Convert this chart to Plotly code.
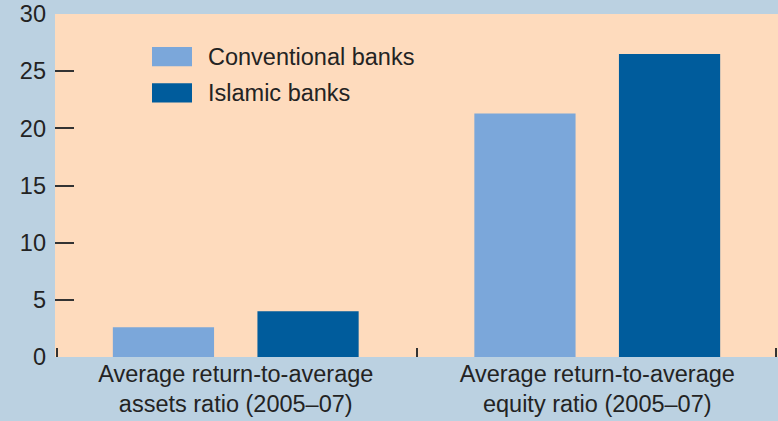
import plotly.graph_objects as go

categories = ["Average return-to-average<br>assets ratio (2005–07)",
              "Average return-to-average<br>equity ratio (2005–07)"]
series_names = ["Conventional banks", "Islamic banks"]
conventional = [2.6, 21.3]
islamic = [4.0, 26.5]
y_ticks = [0, 5, 10, 15, 20, 25, 30]
boundary_ticks = [-0.5, 0.5, 1.5]

colors = ["#7BA7DA", "#005C9C"]
font_family = "Liberation Sans, Arial, sans-serif"
text_color = "#232323"
fs = 23.5

fig = go.Figure()
for name, vals, col in zip(series_names, [conventional, islamic], colors):
    fig.add_trace(go.Bar(x=categories, y=vals, name=name, marker=dict(color=col, line=dict(width=0)),
                         showlegend=False))

# invisible trace on an overlay axis to carry boundary ticks
fig.add_trace(go.Scatter(x=boundary_ticks, y=[0, 0, 0], xaxis="x2", mode="markers",
                         marker=dict(opacity=0), hoverinfo="skip", showlegend=False))

# custom legend
legend_y = [0.876, 0.770]
for name, col, yy in zip(series_names, colors, legend_y):
    fig.add_shape(type="rect", xref="paper", yref="paper",
                  x0=(152 - 55) / 723, x1=(192 - 55) / 723,
                  y0=yy - 0.028, y1=yy + 0.028, fillcolor=col, line=dict(width=0))
    fig.add_annotation(xref="paper", yref="paper", x=(206 - 55) / 723, y=yy, text=name,
                       showarrow=False, xanchor="left", yanchor="middle",
                       font=dict(family=font_family, size=fs, color=text_color))

fig.update_layout(
    width=778, height=421,
    margin=dict(l=55, r=0, t=14, b=64),
    paper_bgcolor="#BBD1E1",
    plot_bgcolor="#FEDBBD",
    barmode="group",
    bargap=0.2,
    bargroupgap=0.3,
    font=dict(family=font_family, size=fs, color=text_color),
    xaxis2=dict(overlaying="x", range=[-0.506, 1.506], tickvals=boundary_ticks, ticks="inside",
                ticklen=9, tickwidth=2, tickcolor="#333", showticklabels=False,
                showgrid=False, zeroline=False, showline=False, side="bottom", anchor="y"),
)
fig.layout.xaxis.update(type="category", ticks="", showgrid=False, showline=False,
                        tickfont=dict(size=fs, color=text_color), range=[-0.5, 1.5])
fig.update_yaxes(range=[0, 30], tickvals=y_ticks, ticks="inside", ticklen=19, tickwidth=2,
                 tickcolor="#333", showgrid=False, showline=False, zeroline=False,
                 ticklabelstandoff=8, tickfont=dict(size=fs, color=text_color))

fig.write_html("out.html")
